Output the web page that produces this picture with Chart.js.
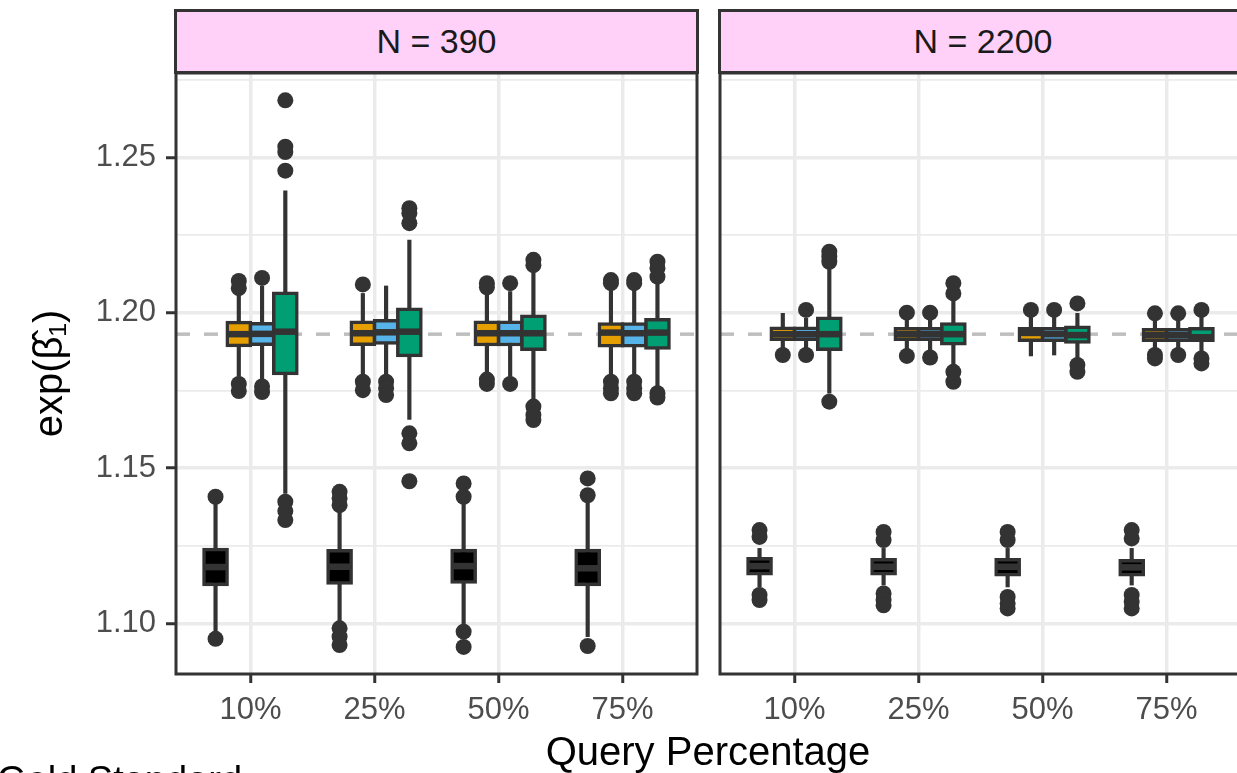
<!DOCTYPE html>
<html>
<head>
<meta charset="utf-8">
<script src="https://cdn.jsdelivr.net/npm/chart.js@4.4.0/dist/chart.umd.min.js"></script>
<style>
html, body { margin: 0; padding: 0; width: 1237px; height: 773px; overflow: hidden; background: #fff; }
body { position: relative; font-family: "Liberation Sans", Arial, sans-serif; }
canvas { position: absolute; top: 0; }
#c1 { left: 0; }
#c2 { left: 700px; }
.strip { position: absolute; top: 9px; height: 65px; box-sizing: border-box; border: 3px solid #333; background: #FFD1F9; color: #1A1A1A; font-size: 34px; line-height: 59px; text-align: center; }
#xtitle { position: absolute; left: 208px; width: 1000px; top: 731px; font-size: 40px; line-height: 40px; text-align: center; color: #000; }
#legend { position: absolute; left: -3px; top: 761px; font-size: 38px; line-height: 38px; color: #000; white-space: nowrap; }
</style>
</head>
<body>
<canvas id="c1" width="700" height="773"></canvas>
<canvas id="c2" width="541" height="773"></canvas>
<div class="strip" style="left:174px; width:525px;">N = 390</div>
<div class="strip" style="left:718px; width:530px;">N = 2200</div>
<div id="xtitle">Query Percentage</div>
<div id="legend">Gold Standard</div>
<script>
var categories = ['10%', '25%', '50%', '75%'];
var yTicksAll = [1.10, 1.125, 1.15, 1.175, 1.20, 1.225, 1.25, 1.275];
var trueValue = 1.1931;
var boxColors = ['#000000', '#E69F00', '#56B4E9', '#009E73'];
var dodge = [-0.28125, -0.09375, 0.09375, 0.28125];

// per category: [lower whisker, q1, median, q3, upper whisker]
var gold390 = [
	[1.0965, 1.1121, 1.1182, 1.1243, 1.1385],
	[1.0995, 1.1126, 1.1183, 1.1239, 1.1365],
	[1.0990, 1.1129, 1.1185, 1.1240, 1.1387],
	[1.0958, 1.1121, 1.1178, 1.1240, 1.1387]
];
var gold390Out = [[1.1408, 1.0951], [1.1424, 1.1403, 1.1381, 1.0985, 1.0958, 1.0931], [1.1451, 1.1408, 1.0974, 1.0925], [1.1467, 1.1413, 1.0928]];

var orange390 = [
	[1.1795, 1.1890, 1.1931, 1.1973, 1.2065],
	[1.1794, 1.1894, 1.1934, 1.1974, 1.2062],
	[1.1800, 1.1893, 1.1934, 1.1974, 1.2068],
	[1.1794, 1.1889, 1.1936, 1.1968, 1.2085]
];
var orange390Out = [[1.2102, 1.2079, 1.1771, 1.1748], [1.2091, 1.1778, 1.1751], [1.2095, 1.2082, 1.1785, 1.1771], [1.2105, 1.2095, 1.1778, 1.1757, 1.1741]];

var blue390 = [
	[1.1785, 1.1894, 1.1932, 1.1969, 1.2085],
	[1.1783, 1.1898, 1.1937, 1.1979, 1.2086],
	[1.1795, 1.1893, 1.1934, 1.1974, 1.2068],
	[1.1794, 1.1889, 1.1934, 1.1968, 1.2085]
];
var blue390Out = [[1.2112, 1.1763, 1.1745], [1.1778, 1.1757, 1.1735], [1.2095, 1.1771], [1.2105, 1.2095, 1.1778, 1.1757, 1.1741]];

var green390 = [
	[1.1419, 1.1800, 1.1939, 1.2067, 1.2392],
	[1.1657, 1.1858, 1.1939, 1.2016, 1.2234],
	[1.1714, 1.1878, 1.1934, 1.1993, 1.2132],
	[1.1762, 1.1882, 1.1936, 1.1982, 1.2100]
];
var green390Out = [[1.2683, 1.2534, 1.2517, 1.2457, 1.1392, 1.1362, 1.1333], [1.2336, 1.2320, 1.2288, 1.1612, 1.1580, 1.1458], [1.2170, 1.2153, 1.1698, 1.1671, 1.1655], [1.2164, 1.2143, 1.2116, 1.1741, 1.1727]];

var gold2200 = [
	[1.1118, 1.1156, 1.1185, 1.1213, 1.1242],
	[1.1124, 1.1156, 1.1183, 1.1210, 1.1242],
	[1.1118, 1.1153, 1.1183, 1.1210, 1.1242],
	[1.1124, 1.1153, 1.1181, 1.1207, 1.1242]
];
var gold2200Out = [[1.1301, 1.1279, 1.1092, 1.1076], [1.1295, 1.1269, 1.1097, 1.1076, 1.1059], [1.1295, 1.1269, 1.1086, 1.1065, 1.1049], [1.1301, 1.1274, 1.1092, 1.1070, 1.1049]];

var orange2200 = [
	[1.1885, 1.1910, 1.1931, 1.1955, 1.1998],
	[1.1880, 1.1910, 1.1931, 1.1953, 1.1985],
	[1.1861, 1.1907, 1.1935, 1.1953, 1.1985],
	[1.1880, 1.1907, 1.1928, 1.1950, 1.1985]
];
var orange2200Out = [[1.1864], [1.2000, 1.1861], [1.2009], [1.1998, 1.1864, 1.1853]];

var blue2200 = [
	[1.1885, 1.1910, 1.1931, 1.1955, 1.1982],
	[1.1880, 1.1910, 1.1931, 1.1953, 1.1985],
	[1.1864, 1.1907, 1.1931, 1.1953, 1.1985],
	[1.1880, 1.1907, 1.1928, 1.1950, 1.1985]
];
var blue2200Out = [[1.2009, 1.1864], [1.2000, 1.1856], [1.2009], [1.1998, 1.1864]];

var green2200 = [
	[1.1741, 1.1878, 1.1931, 1.1987, 1.2148],
	[1.1832, 1.1896, 1.1931, 1.1968, 1.2041],
	[1.1853, 1.1901, 1.1928, 1.1958, 1.1998],
	[1.1860, 1.1907, 1.1921, 1.1953, 1.1990]
];
var green2200Out = [[1.2196, 1.2180, 1.2164, 1.1714], [1.2095, 1.2062, 1.1810, 1.1778], [1.2030, 1.1832, 1.1810], [1.2009, 1.1853, 1.1837]];

var FONT = '"Liberation Sans", Arial, sans-serif';
var DARK = '#333333';

function boxDatasets(stats, outs, s) {
	var off = dodge[s];
	var outPts = [];
	outs.forEach(function(list, i) {
		list.forEach(function(v) { outPts.push({x: i + 1 + off, y: v}); });
	});
	return [
		{	// whiskers
			type: 'bar', grouped: false, order: 5,
			data: stats.map(function(d, i) { return {x: i + 1 + off, y: [d[0], d[4]]}; }),
			backgroundColor: DARK, borderWidth: 0, barThickness: 3.5
		},
		{	// boxes
			type: 'bar', grouped: false, order: 4,
			data: stats.map(function(d, i) { return {x: i + 1 + off, y: [d[1], d[3]]}; }),
			backgroundColor: boxColors[s], borderColor: DARK, borderWidth: 3.5,
			borderSkipped: false, barThickness: 26
		},
		{	// medians
			type: 'scatter', order: 3,
			data: stats.map(function(d, i) { return {x: i + 1 + off, y: d[2]}; }),
			pointStyle: 'line', pointRadius: 11.5, pointHoverRadius: 11.5,
			pointBorderColor: DARK, borderColor: DARK, pointBorderWidth: 6.5, pointHoverBorderWidth: 6.5
		},
		{	// outliers
			type: 'scatter', order: 2,
			data: outPts,
			pointRadius: 8, pointHoverRadius: 8,
			pointBackgroundColor: DARK, backgroundColor: DARK, pointBorderWidth: 0, borderWidth: 0
		}
	];
}

var panelBorder = {
	id: 'panelBorder',
	afterDraw: function(chart) {
		var a = chart.chartArea;
		var ctx = chart.ctx;
		ctx.save();
		ctx.strokeStyle = DARK;
		ctx.lineWidth = 3;
		ctx.strokeRect(a.left, a.top, a.right - a.left, a.bottom - a.top);
		ctx.restore();
	}
};

function makePanel(id, series, showY, padding) {
	var datasets = [{
		type: 'line', order: 10,
		data: [{x: 0.4, y: trueValue}, {x: 4.6, y: trueValue}],
		borderColor: '#BEBEBE', borderWidth: 3.5, borderDash: [14, 14],
		pointRadius: 0, pointHoverRadius: 0
	}];
	series.forEach(function(p, s) {
		datasets = datasets.concat(boxDatasets(p[0], p[1], s));
	});

	return new Chart(document.getElementById(id), {
		type: 'bar',
		data: { datasets: datasets },
		plugins: [panelBorder],
		options: {
			responsive: false,
			animation: false,
			devicePixelRatio: 1,
			events: [],
			layout: { padding: padding, autoPadding: false },
			plugins: { legend: { display: false }, tooltip: { enabled: false } },
			scales: {
				x: {
					type: 'linear', min: 0.4, max: 4.6, bounds: 'data', offset: false,
					afterBuildTicks: function(scale) {
						scale.ticks = categories.map(function(c, i) { return {value: i + 1}; });
					},
					afterFit: function(scale) {
						scale.height = 99;
						scale.paddingLeft = 0;
						scale.paddingRight = 0;
					},
					ticks: {
						autoSkip: false, maxRotation: 0, minRotation: 0, padding: 9,
						color: '#4D4D4D', font: { size: 31, family: FONT },
						callback: function(value) { return categories[Math.round(value) - 1]; }
					},
					grid: {
						offset: false, color: '#EBEBEB', lineWidth: 3.5,
						drawTicks: true, tickLength: 9, tickWidth: 3, tickColor: DARK
					},
					border: { display: false }
				},
				y: {
					type: 'linear', min: 1.0838, max: 1.2771, bounds: 'data', beginAtZero: false,
					afterBuildTicks: function(scale) {
						scale.ticks = yTicksAll.map(function(v) { return {value: v}; });
					},
					afterFit: function(scale) {
						scale.width = showY ? 176 : 0;
						scale.paddingTop = 0;
						scale.paddingBottom = 0;
					},
					ticks: {
						display: showY, autoSkip: false, padding: 10,
						color: '#4D4D4D', font: { size: 31, family: FONT },
						callback: function(value, index) { return index % 2 === 0 ? value.toFixed(2) : ''; }
					},
					grid: {
						color: '#EBEBEB',
						lineWidth: function(ctx) { return ctx.index % 2 === 0 ? 3.5 : 1.8; },
						drawTicks: showY, tickLength: 10, tickWidth: 3,
						tickColor: function(ctx) { return ctx.index % 2 === 0 ? DARK : 'rgba(0,0,0,0)'; }
					},
					border: { display: false },
					title: {
						display: showY, text: 'exp(β̂₁)', color: '#000',
						font: { size: 40, family: FONT }, padding: { top: 27, bottom: 0 }
					}
				}
			}
		}
	});
}

makePanel('c1', [[gold390, gold390Out], [orange390, orange390Out], [blue390, blue390Out], [green390, green390Out]], true, {top: 73, left: 0, right: 3, bottom: 0});
makePanel('c2', [[gold2200, gold2200Out], [orange2200, orange2200Out], [blue2200, blue2200Out], [green2200, green2200Out]], false, {top: 73, left: 20, right: 0, bottom: 0});
</script>
</body>
</html>
